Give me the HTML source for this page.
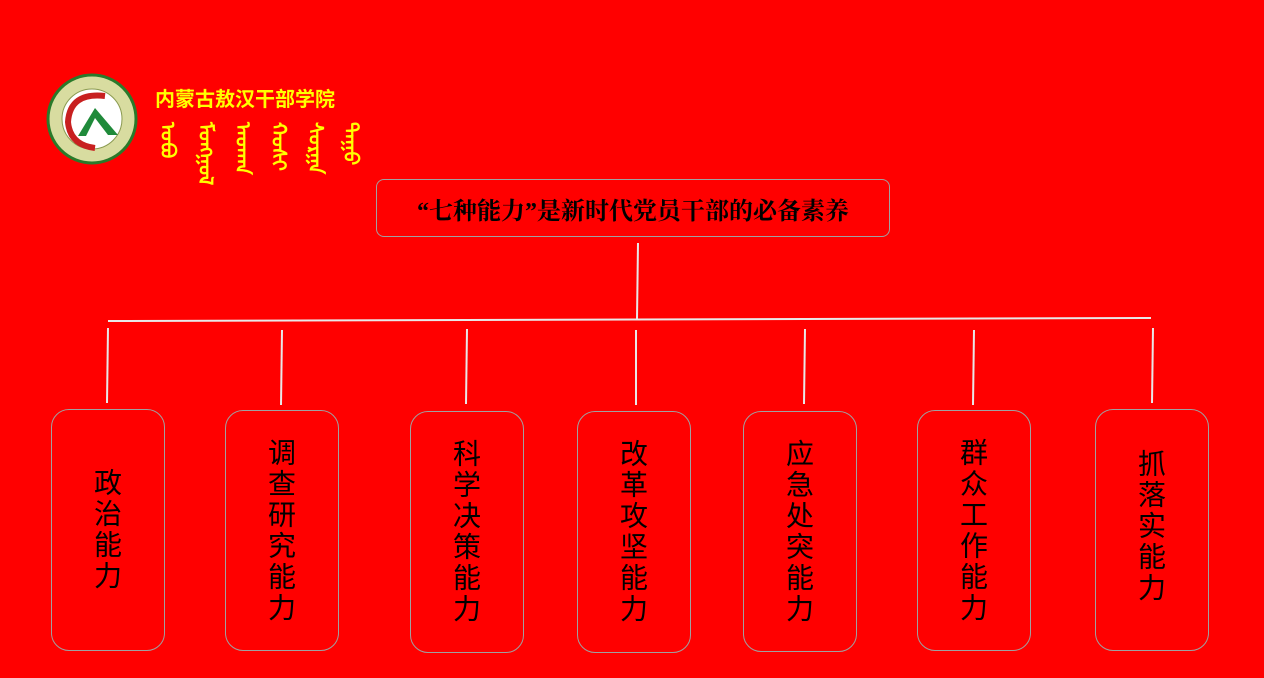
<!DOCTYPE html>
<html><head><meta charset="utf-8"><style>
body{margin:0;width:1264px;height:678px;background:#ff0000;overflow:hidden;position:relative;font-family:"Liberation Sans","Noto Sans CJK SC",sans-serif}
.b{position:absolute;width:114px;height:240px;border:1.5px solid #a0a0a0;border-radius:18px;box-sizing:border-box;display:flex;align-items:center;justify-content:center}
.b span{writing-mode:vertical-rl;font-size:28px;line-height:30px;letter-spacing:3px;color:#000;font-family:"WenQuanYi Zen Hei","Noto Sans CJK SC",sans-serif}
.m{position:absolute;top:122px;color:#ffff00;font-size:20px;font-weight:bold;writing-mode:vertical-lr;line-height:20px}
</style></head><body>
<svg width="1264" height="678" style="position:absolute;left:0;top:0">
<g stroke="#e8e8e8" stroke-width="2" fill="none">
<line x1="638" y1="243" x2="637" y2="319"/>
<line x1="108" y1="321" x2="1151" y2="318"/>
<line x1="108" y1="328" x2="107" y2="403"/>
<line x1="282" y1="330" x2="281" y2="405"/>
<line x1="467" y1="329" x2="466" y2="404"/>
<line x1="636" y1="330" x2="636" y2="405"/>
<line x1="805" y1="329" x2="804" y2="404"/>
<line x1="974" y1="330" x2="973" y2="405"/>
<line x1="1153" y1="328" x2="1152" y2="403"/>
</g>
<circle cx="92" cy="119" r="44" fill="#d8dca0" stroke="#2a7a2a" stroke-width="3"/>
<circle cx="92" cy="119" r="30" fill="#fff" stroke="#8a9a50" stroke-width="1"/>
<path d="M105 96 Q70 92 68 122 Q70 145 95 148" stroke="#c82020" stroke-width="6" fill="none"/>
<path d="M78 136 L95 108 L118 135 L108 135 L95 118 L86 136Z" fill="#1f8a3a"/>
</svg>
<div style="position:absolute;left:155px;top:83px;color:#ffff00;font-weight:bold;font-size:20px">内蒙古敖汉干部学院</div>
<div class="m" style="left:157px">ᠣᠪᠦ</div>
<div class="m" style="left:195px">ᠮᠣᠩᠭᠣᠯ</div>
<div class="m" style="left:232px">ᠠᠤᠬᠠᠨ</div>
<div class="m" style="left:268px">ᠬᠣᠰᠢ</div>
<div class="m" style="left:305px">ᠰᠤᠷᠭᠠ</div>
<div class="m" style="left:340px">ᠳᠠᠭᠤ</div>
<div style="position:absolute;left:376px;top:179px;width:514px;height:58px;border:1.5px solid #a0a0a0;border-radius:8px;box-sizing:border-box;display:flex;align-items:center;justify-content:center;font-family:'Liberation Serif','Noto Serif CJK SC',serif;font-weight:bold;font-size:24px;color:#000">“七种能力”是新时代党员干部的必备素养</div>
<div class="b" style="left:51px;top:409px;height:242px"><span>政治能力</span></div>
<div class="b" style="left:225px;top:410px;height:241px"><span>调查研究能力</span></div>
<div class="b" style="left:410px;top:411px;height:242px"><span>科学决策能力</span></div>
<div class="b" style="left:577px;top:411px;height:242px"><span>改革攻坚能力</span></div>
<div class="b" style="left:743px;top:411px;height:241px"><span>应急处突能力</span></div>
<div class="b" style="left:917px;top:410px;height:241px"><span>群众工作能力</span></div>
<div class="b" style="left:1095px;top:409px;height:242px"><span style="margin-top:-8px">抓落实能力</span></div>
</body></html>
